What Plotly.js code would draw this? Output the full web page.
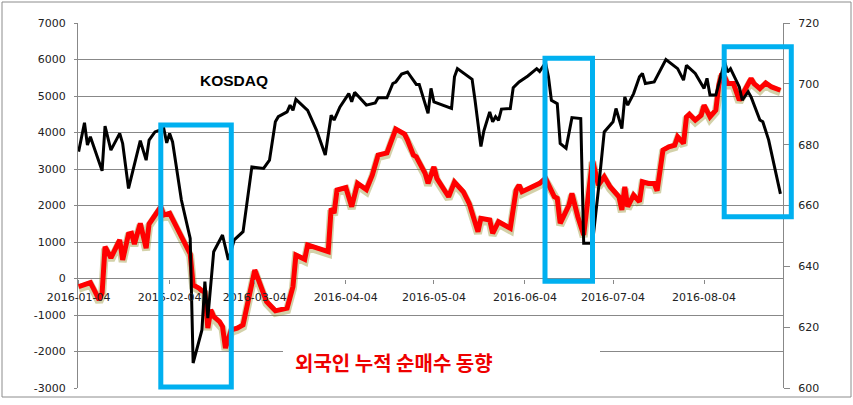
<!DOCTYPE html>
<html>
<head>
<meta charset="utf-8">
<script src="https://cdn.plot.ly/plotly-3.0.1.min.js"></script>
<style>html,body{margin:0;padding:0;background:#fff;}#chart{width:853px;height:405px;}</style>
</head>
<body>
<div id="chart"></div>
<script>
// KOSDAQ index (right axis)
const kosdaqDates = ["2016-01-04","2016-01-06","2016-01-07","2016-01-08","2016-01-12","2016-01-13","2016-01-15","2016-01-18","2016-01-19","2016-01-21","2016-01-25","2016-01-27","2016-01-28","2016-01-30","2016-02-02","2016-02-03","2016-02-04","2016-02-05","2016-02-08","2016-02-11","2016-02-12","2016-02-15","2016-02-16","2016-02-17","2016-02-19","2016-02-22","2016-02-24","2016-02-26","2016-02-29","2016-03-03","2016-03-07","2016-03-09","2016-03-11","2016-03-12","2016-03-15","2016-03-16","2016-03-17","2016-03-18","2016-03-22","2016-03-25","2016-03-28","2016-03-30","2016-03-31","2016-04-02","2016-04-05","2016-04-06","2016-04-07","2016-04-11","2016-04-14","2016-04-15","2016-04-18","2016-04-20","2016-04-21","2016-04-23","2016-04-25","2016-04-28","2016-04-29","2016-05-02","2016-05-03","2016-05-04","2016-05-10","2016-05-11","2016-05-12","2016-05-17","2016-05-18","2016-05-20","2016-05-21","2016-05-23","2016-05-24","2016-05-25","2016-05-26","2016-05-27","2016-05-30","2016-05-31","2016-06-02","2016-06-05","2016-06-08","2016-06-09","2016-06-11","2016-06-12","2016-06-13","2016-06-15","2016-06-16","2016-06-18","2016-06-20","2016-06-23","2016-06-24","2016-06-27","2016-06-29","2016-07-01","2016-07-04","2016-07-05","2016-07-07","2016-07-08","2016-07-09","2016-07-11","2016-07-13","2016-07-14","2016-07-15","2016-07-18","2016-07-22","2016-07-23","2016-07-25","2016-07-26","2016-07-28","2016-07-29","2016-08-01","2016-08-04","2016-08-05","2016-08-06","2016-08-08","2016-08-11","2016-08-12","2016-08-13","2016-08-16","2016-08-17","2016-08-19","2016-08-20","2016-08-23","2016-08-24","2016-08-26","2016-08-30"];
const kosdaqValues = [677.7,687.2,679.9,682.6,671.4,686.1,678.2,683.7,680.4,665.6,681.3,674.9,681.5,684.2,685.3,680.6,683.7,680.9,661.8,649.2,608.2,619.1,635.0,623.0,644.8,650.3,642.1,648.7,651.4,672.7,672.2,674.9,687.5,689.2,690.8,693.0,691.3,694.9,691.3,684.8,676.6,689.7,688.1,692.4,696.8,694.1,697.2,693.0,693.7,695.4,695.4,700.1,700.6,703.2,703.9,699.8,699.8,690.3,698.5,694.1,691.9,702.3,705.0,701.5,694.6,679.4,684.5,690.8,687.5,689.2,688.0,691.7,691.9,698.7,700.6,702.6,705.0,704.1,706.9,702.3,694.6,693.5,680.4,678.8,688.9,688.6,647.6,647.6,665.1,684.2,687.5,691.9,685.3,695.7,693.0,696.8,702.3,703.4,700.1,700.6,708.0,707.2,705.6,705.0,701.2,706.1,703.4,698.5,701.8,696.3,696.3,707.2,703.9,705.0,699.0,694.6,697.4,695.7,688.1,687.5,681.5,663.8];

// Foreign investors' cumulative net buying (left axis)
const foreignDates = ["2016-01-04","2016-01-06","2016-01-08","2016-01-09","2016-01-11","2016-01-12","2016-01-13","2016-01-15","2016-01-18","2016-01-19","2016-01-21","2016-01-22","2016-01-23","2016-01-25","2016-01-27","2016-01-28","2016-02-01","2016-02-02","2016-02-04","2016-02-11","2016-02-12","2016-02-14","2016-02-15","2016-02-16","2016-02-17","2016-02-18","2016-02-19","2016-02-21","2016-02-22","2016-02-23","2016-02-25","2016-02-27","2016-02-29","2016-03-04","2016-03-08","2016-03-11","2016-03-15","2016-03-17","2016-03-18","2016-03-21","2016-03-22","2016-03-29","2016-03-30","2016-03-31","2016-04-01","2016-04-04","2016-04-06","2016-04-08","2016-04-11","2016-04-13","2016-04-15","2016-04-18","2016-04-20","2016-04-21","2016-04-24","2016-04-25","2016-04-27","2016-04-28","2016-05-01","2016-05-02","2016-05-04","2016-05-05","2016-05-09","2016-05-11","2016-05-14","2016-05-16","2016-05-19","2016-05-20","2016-05-23","2016-05-24","2016-05-26","2016-05-30","2016-06-01","2016-06-02","2016-06-03","2016-06-09","2016-06-11","2016-06-14","2016-06-15","2016-06-16","2016-06-19","2016-06-20","2016-06-22","2016-06-24","2016-06-27","2016-06-29","2016-07-01","2016-07-03","2016-07-06","2016-07-07","2016-07-08","2016-07-09","2016-07-11","2016-07-13","2016-07-14","2016-07-16","2016-07-18","2016-07-19","2016-07-21","2016-07-23","2016-07-25","2016-07-26","2016-07-28","2016-07-29","2016-07-30","2016-08-01","2016-08-03","2016-08-04","2016-08-06","2016-08-08","2016-08-09","2016-08-10","2016-08-11","2016-08-12","2016-08-14","2016-08-16","2016-08-20","2016-08-21","2016-08-23","2016-08-25","2016-08-27","2016-08-30"];
const foreignValues = [-222,-175,-112,-265,-585,-402,872,563,1056,509,1220,1239,946,1512,829,1493,1966,1739,1786,673,-175,-265,-339,-366,-1359,-859,-1042,-1179,-1316,-1906,-1406,-1359,-1269,235,-632,-886,-812,-222,645,528,919,736,1923,1786,2423,2492,1966,2606,2437,2833,3380,3443,3927,4092,3955,3791,3380,3334,2880,2606,3060,2743,2240,2642,2377,2059,1283,1649,1603,1239,1556,1376,2423,2560,2377,2606,2743,2240,2196,1512,2013,2333,1693,1192,3243,2560,2787,2513,2240,1876,2513,1966,2286,2103,2650,2606,2606,2404,3517,3607,3654,3881,3700,4428,4502,4338,4474,4748,4428,4611,5295,5615,5522,5341,5341,4885,5478,5341,5205,5358,5248,5158];

// Tick labels
const leftTickVals = [-3000,-2000,-1000,0,1000,2000,3000,4000,5000,6000,7000];
const leftTickText = ["-3000","-2000","-1000","0","1000","2000","3000","4000","5000","6000","7000"];
const rightTickVals = [600,620,640,660,680,700,720];
const xTickVals = ["2016-01-04","2016-02-04","2016-03-04","2016-04-04","2016-05-04","2016-06-04","2016-07-04","2016-08-04"];

const labelText = "KOSDAQ";
const titleText = "외국인 누적 순매수 동향";

const tickFont = {family: "DejaVu Sans, Verdana, sans-serif", size: 11, color: "#222"};
const gridC = "#888888";
const boxC = "#00b0f0";

const traces = [
  {x: foreignDates, y: foreignValues, xaxis: "x", yaxis: "y", mode: "lines",
   line: {color: "rgba(140,135,30,0.38)", width: 8}, hoverinfo: "skip"},
  {x: foreignDates, y: foreignValues, xaxis: "x", yaxis: "y2", mode: "lines",
   line: {color: "#ff0000", width: 5}},
  {x: kosdaqDates, y: kosdaqValues, xaxis: "x", yaxis: "y3", mode: "lines",
   line: {color: "#000000", width: 3}}
];

function px2x(p){ return (p - 78) / 705; }
function px2y(p){ return (388 - p) / 365; }
function box(x0,y0,x1,y1){
  return {type: "rect", xref: "paper", yref: "paper", layer: "above",
    x0: px2x(x0), x1: px2x(x1), y0: px2y(y1), y1: px2y(y0),
    line: {color: boxC, width: 5}, fillcolor: "rgba(0,0,0,0)"};
}

const layout = {
  width: 853, height: 405,
  margin: {l: 78, r: 70, t: 23, b: 17},
  paper_bgcolor: "#ffffff", plot_bgcolor: "#ffffff",
  showlegend: false,
  xaxis: {type: "date", range: ["2016-01-03 19:00", "2016-08-30 21:00"],
    tickvals: xTickVals, tickformat: "%Y-%m-%d",
    anchor: "free", position: 0.3, showgrid: false, showline: false, zeroline: false,
    ticks: "outside", ticklen: 4, tickcolor: gridC, tickfont: tickFont, ticklabelstandoff: 4},
  yaxis: {range: [-2945, 7055], visible: false, domain: [0, 1]},
  yaxis2: {overlaying: "y", side: "left", range: [-3000, 7000],
    tickvals: leftTickVals, ticktext: leftTickText,
    showgrid: true, gridcolor: gridC, gridwidth: 1, zeroline: false,
    showline: true, linecolor: gridC, linewidth: 1,
    ticks: "outside", ticklen: 3, tickcolor: gridC, tickfont: tickFont, ticklabelstandoff: 6},
  yaxis3: {overlaying: "y", side: "right", range: [600, 720],
    tickvals: rightTickVals,
    showgrid: false, zeroline: false,
    showline: true, linecolor: gridC, linewidth: 1,
    ticks: "outside", ticklen: 6, tickcolor: gridC, tickfont: tickFont, ticklabelstandoff: 6},
  shapes: [
    {type: "rect", xref: "paper", yref: "paper", layer: "above",
     x0: px2x(283), x1: px2x(600), y0: px2y(376), y1: px2y(345),
     line: {width: 0}, fillcolor: "#ffffff"},
    box(160.8, 125, 231.3, 387),
    box(545, 58.3, 592.5, 281.2),
    box(724.2, 46.8, 791.3, 216.8),
    {type: "rect", xref: "paper", yref: "paper", layer: "above",
     x0: px2x(2), x1: px2x(851), y0: px2y(397), y1: px2y(2),
     line: {color: "#8c8c8c", width: 1}, fillcolor: "rgba(0,0,0,0)"}
  ],
  annotations: [
    {xref: "paper", yref: "paper", x: px2x(234), y: px2y(80), text: "<b>" + labelText + "</b>",
     showarrow: false, xanchor: "center", yanchor: "middle",
     font: {family: "Liberation Sans, Arial, sans-serif", size: 15.5, color: "#000"}},
    {xref: "paper", yref: "paper", x: px2x(393.5), y: px2y(362), text: "<b>" + titleText + "</b>",
     showarrow: false, xanchor: "center", yanchor: "middle",
     font: {family: "Noto Sans CJK KR, sans-serif", size: 20, color: "#ee0000"}}
  ]
};

Plotly.newPlot("chart", traces, layout, {staticPlot: true, displayModeBar: false});
</script>
</body>
</html>
